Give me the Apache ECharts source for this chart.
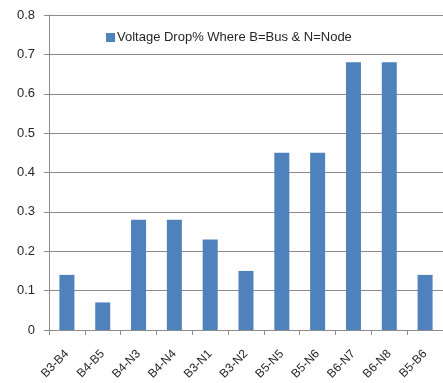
<!DOCTYPE html>
<html>
<head>
<meta charset="utf-8">
<script src="https://cdn.jsdelivr.net/npm/echarts@6/dist/echarts.min.js"></script>
<style>html,body{margin:0;padding:0;background:#fff}#c{width:443px;height:383px}</style>
</head>
<body>
<div id="c"></div>
<script>
// Branch segments between buses (B) and nodes (N)
const segments = ['B3-B4', 'B4-B5', 'B4-N3', 'B4-N4', 'B3-N1', 'B3-N2', 'B5-N5', 'B5-N6', 'B6-N7', 'B6-N8', 'B5-B6'];
// Voltage drop in percent along each segment
const voltageDrop = [0.14, 0.07, 0.28, 0.28, 0.23, 0.15, 0.45, 0.45, 0.68, 0.68, 0.14];
const seriesName = 'Voltage Drop% Where B=Bus & N=Node';

const chart = echarts.init(document.getElementById('c'));
const font = 'Liberation Sans, Arial, sans-serif';
chart.setOption({
  animation: false,
  backgroundColor: '#fff',
  grid: { left: 49, top: 15, right: -6, bottom: 53 },
  legend: {
    left: 101, top: 26,
    itemWidth: 9, itemHeight: 9,
    icon: 'rect',
    textStyle: { fontFamily: font, fontSize: 13, color: '#262626', padding: [0, 0, 0, -3] },
    data: [seriesName]
  },
  xAxis: {
    type: 'category',
    data: segments,
    axisLine: { lineStyle: { color: '#8c8c8c', width: 1 } },
    axisTick: { show: true, length: 5, lineStyle: { color: '#8c8c8c' } },
    axisLabel: { rotate: 45, fontFamily: font, fontSize: 12, color: '#262626', margin: 22 }
  },
  yAxis: {
    type: 'value',
    min: 0, max: 0.8, interval: 0.1,
    axisLine: { show: true, lineStyle: { color: '#8c8c8c' } },
    axisTick: { show: true, length: 5, lineStyle: { color: '#8c8c8c' } },
    splitLine: { lineStyle: { color: '#8c8c8c', width: 1 } },
    axisLabel: { fontFamily: font, fontSize: 13, color: '#262626', margin: 14,
      formatter: v => (Math.round(v * 10) / 10).toString() }
  },
  series: [{
    name: seriesName,
    type: 'bar',
    data: voltageDrop,
    barWidth: 15,
    itemStyle: { color: '#4f81bd' }
  }]
});
</script>
</body>
</html>
